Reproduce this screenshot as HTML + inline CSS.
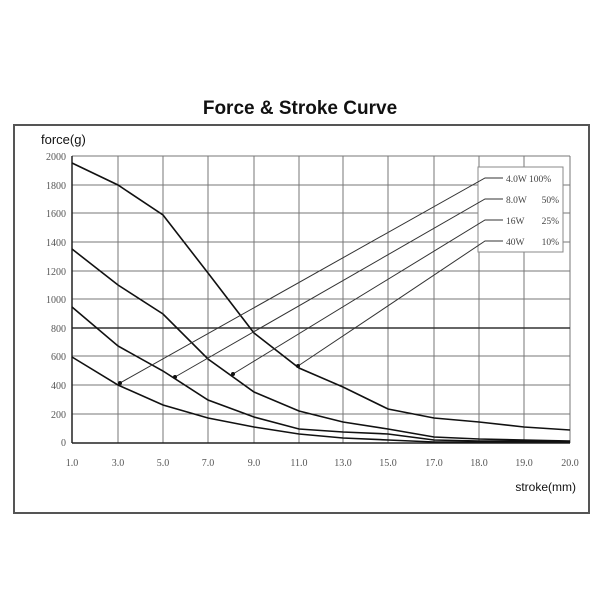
<!DOCTYPE html>
<html><head><style>body{margin:0;background:#fff}svg{display:block}</style></head><body>
<svg width="600" height="600" viewBox="0 0 600 600" xmlns="http://www.w3.org/2000/svg">
<rect width="600" height="600" fill="#fff"/>
<text x="300" y="114" text-anchor="middle" font-family="Liberation Sans, sans-serif" font-weight="bold" font-size="19" fill="#111">Force &amp; Stroke Curve</text>
<rect x="14" y="125" width="575" height="388" fill="none" stroke="#555" stroke-width="2"/>
<text x="41" y="144" font-family="Liberation Sans, sans-serif" font-size="13" fill="#111">force(g)</text>
<g stroke="#777" stroke-width="1">
<line x1="72" y1="156" x2="570" y2="156"/><line x1="72" y1="185" x2="570" y2="185"/><line x1="72" y1="213" x2="570" y2="213"/><line x1="72" y1="242" x2="570" y2="242"/><line x1="72" y1="271" x2="570" y2="271"/><line x1="72" y1="299" x2="570" y2="299"/><line x1="72" y1="356" x2="570" y2="356"/><line x1="72" y1="385" x2="570" y2="385"/><line x1="72" y1="414" x2="570" y2="414"/>
<line x1="118" y1="156" x2="118" y2="443"/><line x1="163" y1="156" x2="163" y2="443"/><line x1="208" y1="156" x2="208" y2="443"/><line x1="254" y1="156" x2="254" y2="443"/><line x1="299" y1="156" x2="299" y2="443"/><line x1="343" y1="156" x2="343" y2="443"/><line x1="388" y1="156" x2="388" y2="443"/><line x1="434" y1="156" x2="434" y2="443"/><line x1="479" y1="156" x2="479" y2="443"/><line x1="524" y1="156" x2="524" y2="443"/><line x1="570" y1="156" x2="570" y2="443"/>
</g>
<line x1="72" y1="328" x2="570" y2="328" stroke="#333" stroke-width="1.5"/>
<line x1="72" y1="156" x2="72" y2="443" stroke="#222" stroke-width="1.5"/>
<line x1="72" y1="443" x2="570" y2="443" stroke="#222" stroke-width="1.5"/>
<g font-family="Liberation Serif, serif" font-size="10" fill="#555" text-anchor="end">
<text x="66" y="160">2000</text><text x="66" y="189">1800</text><text x="66" y="217">1600</text><text x="66" y="246">1400</text><text x="66" y="275">1200</text><text x="66" y="303">1000</text><text x="66" y="332">800</text><text x="66" y="360">600</text><text x="66" y="389">400</text><text x="66" y="418">200</text><text x="66" y="446">0</text>
</g>
<g font-family="Liberation Serif, serif" font-size="10" fill="#555" text-anchor="middle">
<text x="72" y="466">1.0</text><text x="118" y="466">3.0</text><text x="163" y="466">5.0</text><text x="208" y="466">7.0</text><text x="254" y="466">9.0</text><text x="299" y="466">11.0</text><text x="343" y="466">13.0</text><text x="388" y="466">15.0</text><text x="434" y="466">17.0</text><text x="479" y="466">18.0</text><text x="524" y="466">19.0</text><text x="570" y="466">20.0</text>
</g>
<text x="576" y="491" text-anchor="end" font-family="Liberation Sans, sans-serif" font-size="12" fill="#111">stroke(mm)</text>
<g fill="none" stroke="#111" stroke-width="1.6">
<polyline points="72,163 118,185 163,215 208,273 254,333 299,368 343,387 388,409 434,418 479,422 524,427 570,430"/>
<polyline points="72,249 118,285 163,314 208,359 254,392 299,411 343,422 388,429 434,437 479,439 524,440 570,441"/>
<polyline points="72,307 118,346 163,371 208,400 254,417 299,429 343,432 388,434 434,440 479,441 524,441 570,442"/>
<polyline points="72,357 118,385 163,405 208,418 254,427 299,434 343,438 388,440 434,442 570,442"/>
</g>
<rect x="478" y="167" width="85" height="85" fill="#fff" stroke="#888"/>
<g stroke="#333" stroke-width="1" fill="none">
<polyline points="503,178 485,178 120,383"/>
<polyline points="503,199 485,199 175,377"/>
<polyline points="503,220 485,220 233,374"/>
<polyline points="503,241 485,241 298,366"/>
</g>
<g fill="#111">
<circle cx="120" cy="383" r="2"/><circle cx="175" cy="377" r="2"/><circle cx="233" cy="374" r="2"/><circle cx="298" cy="366" r="2"/>
</g>
<g font-family="Liberation Serif, serif" font-size="9.5" fill="#444">
<text x="506" y="182">4.0W 100%</text>
<text x="506" y="203">8.0W</text><text x="559" y="203" text-anchor="end">50%</text>
<text x="506" y="224">16W</text><text x="559" y="224" text-anchor="end">25%</text>
<text x="506" y="245">40W</text><text x="559" y="245" text-anchor="end">10%</text>
</g>
</svg>
</body></html>
